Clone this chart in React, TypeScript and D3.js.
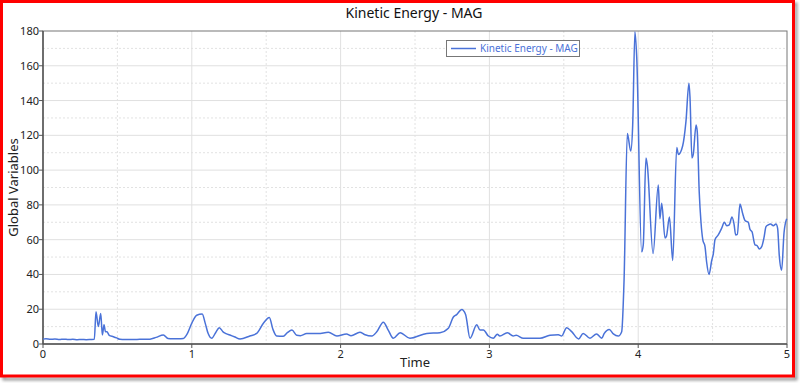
import React from "react";
import * as d3 from "d3";

const times: number[] = [
  0, 0.02, 0.05, 0.08, 0.11, 0.14, 0.17, 0.2, 0.23, 0.26, 0.29, 0.32, 0.345,
  0.356, 0.372, 0.388, 0.399, 0.41, 0.42, 0.43, 0.445, 0.473, 0.495, 0.517,
  0.55, 0.6, 0.65, 0.719, 0.76, 0.809, 0.84, 0.87, 0.91, 0.943, 0.97, 1.0,
  1.033, 1.07, 1.09, 1.11, 1.134, 1.16, 1.185, 1.21, 1.23, 1.26, 1.29, 1.324,
  1.39, 1.436, 1.481, 1.521, 1.545, 1.57, 1.615, 1.642, 1.673, 1.705, 1.73,
  1.772, 1.85, 1.918, 1.975, 2.04, 2.07, 2.13, 2.16, 2.21, 2.243, 2.287, 2.32,
  2.354, 2.4, 2.466, 2.579, 2.668, 2.724, 2.758, 2.78, 2.814, 2.84, 2.87,
  2.915, 2.937, 2.96, 2.993, 3.026, 3.053, 3.07, 3.12, 3.16, 3.18, 3.228,
  3.34, 3.407, 3.463, 3.486, 3.519, 3.553, 3.6, 3.63, 3.676, 3.72, 3.755,
  3.771, 3.806, 3.833, 3.866, 3.889, 3.905, 3.927, 3.95, 3.963, 3.978, 3.99,
  4.023, 4.034, 4.052, 4.061, 4.1, 4.135, 4.146, 4.158, 4.18, 4.19, 4.21,
  4.232, 4.259, 4.27, 4.299, 4.321, 4.341, 4.348, 4.361, 4.37, 4.389, 4.397,
  4.41, 4.422, 4.434, 4.449, 4.46, 4.476, 4.494, 4.505, 4.516, 4.538, 4.561,
  4.579, 4.595, 4.612, 4.63, 4.644, 4.655, 4.666, 4.684, 4.702, 4.718, 4.74,
  4.751, 4.765, 4.785, 4.8, 4.814, 4.83, 4.845, 4.859, 4.874, 4.89, 4.908,
  4.926, 4.937, 4.948, 4.964, 4.98, 4.998,
];

const kineticEnergy: number[] = [
  2.8, 3.0, 2.7, 2.9, 2.6, 2.8, 2.6, 2.7, 2.5, 2.6, 2.5, 2.6, 2.7,
  18.6, 10, 17.6, 5.2, 11, 7, 7, 5, 4.2, 3.5, 2.7,
  2.6, 2.6, 2.7, 2.8, 3.8, 5.2, 3.2, 3.0, 3.0, 3.2, 6, 12,
  16.5, 17.2, 12, 6, 3.3, 6.5, 9.4, 7, 6, 5, 4, 2.9,
  4.6, 6.1, 11.9, 15.3, 8.5, 4.6, 4.4, 6.5, 8, 5, 4.8,
  6, 6, 6.7, 4.6, 5.8, 4.8, 6.7, 5.5, 4.6, 7, 12.5, 8,
  3.3, 6.5, 3.3, 6.1, 6.5, 9, 15.5, 16.9, 19.9, 17, 3.3,
  11, 8, 8, 4.6, 3.3, 5.6, 4.6, 6.5, 4.6, 5, 3.3,
  3.3, 5, 5.3, 4.6, 9.4, 7.1, 2.9, 6.1, 3.3, 5.8, 3.3,
  6, 8.4, 5.8, 4.6, 7.1, 36.8, 121, 111, 126, 179.6, 165,
  53, 57, 107, 103, 52, 91.4, 72, 81, 61, 62, 73,
  48, 113, 109, 114, 128, 150, 142, 107, 109, 126, 122,
  87.6, 70, 60, 56, 47, 40, 48, 52, 60, 62.7, 66.6,
  70, 68, 68.5, 73, 69, 62.7, 63, 80.5, 75, 71, 70,
  66, 64.5, 57, 56.5, 54.6, 56, 61, 67.5, 68.5, 69, 68,
  69, 66.5, 51, 42.5, 64, 72,
];

const xTicks: number[] = [0, 1, 2, 3, 4, 5];
const yTicks: number[] = [0, 20, 40, 60, 80, 100, 120, 140, 160, 180];
const xMinor: number[] = [0.5, 1.5, 2.5, 3.5, 4.5];
const yMinor: number[] = [10, 30, 50, 70, 90, 110, 130, 150, 170];

const title = "Kinetic Energy - MAG";
const seriesName = "Kinetic Energy - MAG";
const xLabel = "Time";
const yLabel = "Global Variables";

export default function App() {
  const W = 800, H = 383;
  const left = 43, right = 787, top = 31, bottom = 344;
  const x = d3.scaleLinear().domain([0, 5]).range([left, right]);
  const y = d3.scaleLinear().domain([0, 180]).range([bottom, top]);
  const data = times.map((t, i) => [t, kineticEnergy[i]] as [number, number]);
  const line = d3
    .line<[number, number]>()
    .x((d) => x(d[0]))
    .y((d) => y(d[1]))
    .curve(d3.curveMonotoneX);
  const font = "'Noto Sans', 'Open Sans', sans-serif";
  const blue = "#4a72d8";

  return (
    <svg
      width={W}
      height={H}
      style={{ position: "absolute", left: 0, top: 0, background: "#fff" }}
      fontFamily={font}
    >
      <defs>
        <filter id="sh" x="-5%" y="-5%" width="110%" height="110%">
          <feGaussianBlur stdDeviation="1.5" />
        </filter>
      </defs>
      <rect x={4} y={4} width={792} height={375} fill="none" stroke="#999" strokeWidth={3} filter="url(#sh)" />
      <rect x={1.5} y={1.5} width={792} height={374.5} fill="#fff" stroke="#ff0000" strokeWidth={3} />

      {/* grid */}
      {xMinor.map((t) => (
        <line key={"xm" + t} x1={x(t)} x2={x(t)} y1={top} y2={bottom} stroke="#e2e2e2" strokeDasharray="2,2" />
      ))}
      {yMinor.map((v) => (
        <line key={"ym" + v} x1={left} x2={right} y1={y(v)} y2={y(v)} stroke="#e2e2e2" strokeDasharray="2,2" />
      ))}
      {xTicks.slice(1, -1).map((t) => (
        <line key={"xg" + t} x1={x(t)} x2={x(t)} y1={top} y2={bottom} stroke="#e0e0e0" />
      ))}
      {yTicks.slice(1, -1).map((v) => (
        <line key={"yg" + v} x1={left} x2={right} y1={y(v)} y2={y(v)} stroke="#e0e0e0" />
      ))}

      {/* frame */}
      <rect x={left} y={top} width={right - left} height={bottom - top} fill="none" stroke="#777" strokeWidth={1} />
      <line x1={left} x2={left} y1={top} y2={bottom} stroke="#555" strokeWidth={1.5} />
      <line x1={left} x2={right} y1={bottom} y2={bottom} stroke="#555" strokeWidth={1.5} />

      {/* series */}
      <path d={line(data) || ""} fill="none" stroke={blue} strokeWidth={1.5} strokeLinejoin="round" />

      {/* ticks */}
      {yTicks.map((v) => (
        <g key={"yt" + v}>
          <line x1={left - 4} x2={left} y1={y(v)} y2={y(v)} stroke="#555" />
          <text x={left - 4} y={y(v) + 4} textAnchor="end" fontSize={11} fill="#222">
            {v}
          </text>
        </g>
      ))}
      {xTicks.map((t) => (
        <g key={"xt" + t}>
          <line x1={x(t)} x2={x(t)} y1={bottom} y2={bottom + 4} stroke="#555" />
          <text x={x(t)} y={bottom + 14} textAnchor="middle" fontSize={11} fill="#222">
            {t}
          </text>
        </g>
      ))}

      {/* labels */}
      <text x={414} y={18} textAnchor="middle" fontSize={14} fill="#111">
        {title}
      </text>
      <text x={(left + right) / 2} y={367} textAnchor="middle" fontSize={13} fill="#222">
        {xLabel}
      </text>
      <text
        transform={`translate(18, ${(top + bottom) / 2}) rotate(-90)`}
        textAnchor="middle"
        fontSize={13}
        fill="#222"
      >
        {yLabel}
      </text>

      {/* legend */}
      <rect x={446.5} y={40.5} width={133} height={16} fill="#fff" stroke="#777" />
      <line x1={451} x2={476} y1={48.5} y2={48.5} stroke={blue} strokeWidth={1.5} />
      <text x={480} y={52} fontSize={10} fill={blue}>
        {seriesName}
      </text>
    </svg>
  );
}
